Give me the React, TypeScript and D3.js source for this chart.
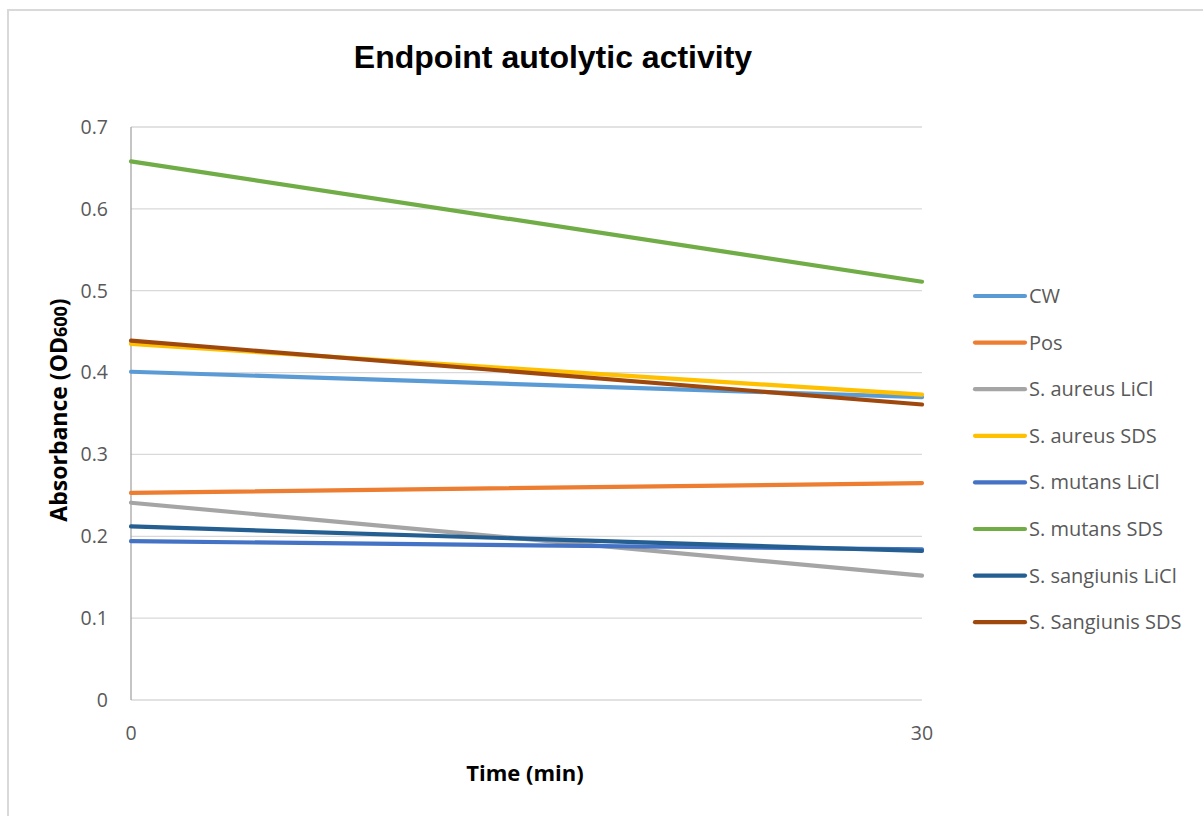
import React from "react";
import * as d3 from "d3";

const times = [0, 30];
const seriesNames = [
  "CW",
  "Pos",
  "S. aureus LiCl",
  "S. aureus SDS",
  "S. mutans LiCl",
  "S. mutans SDS",
  "S. sangiunis LiCl",
  "S. Sangiunis SDS",
];
const seriesColors = [
  "#5b9bd5",
  "#ed7d31",
  "#a5a5a5",
  "#ffc000",
  "#4472c4",
  "#70ad47",
  "#255e91",
  "#9e480e",
];
const cwValues = [0.401, 0.37];
const posValues = [0.253, 0.265];
const aureusLiClValues = [0.241, 0.152];
const aureusSdsValues = [0.435, 0.373];
const mutansLiClValues = [0.194, 0.184];
const mutansSdsValues = [0.658, 0.511];
const sangiunisLiClValues = [0.212, 0.182];
const sangiunisSdsValues = [0.439, 0.361];
const yTicks = [0, 0.1, 0.2, 0.3, 0.4, 0.5, 0.6, 0.7];
const xTicks = [0, 30];

const allValues = [
  cwValues,
  posValues,
  aureusLiClValues,
  aureusSdsValues,
  mutansLiClValues,
  mutansSdsValues,
  sangiunisLiClValues,
  sangiunisSdsValues,
];

export default function App() {
  const W = 1203;
  const H = 816;
  const left = 131;
  const right = 922;
  const top = 127;
  const bottom = 700;
  const x = d3.scaleLinear().domain([0, 30]).range([left, right]);
  const y = d3.scaleLinear().domain([0, 0.7]).range([bottom, top]);
  const line = d3
    .line<number>()
    .x((_, i) => x(times[i]))
    .y((d) => y(d));
  const tickFont = "'Open Sans', 'Noto Sans', sans-serif";
  const legendY0 = 296;
  const legendStep = 46.6;

  return (
    <div style={{ position: "absolute", left: 0, top: 0, width: W, height: H, background: "#fff" }}>
      <svg width={W} height={H} style={{ display: "block" }}>
        <rect x={0} y={0} width={W} height={H} fill="#fff" />
        <rect x={8} y={10} width={W + 20} height={H + 20} fill="none" stroke="#d9d9d9" strokeWidth={2} />
        <text
          x={553}
          y={68}
          textAnchor="middle"
          fontFamily="'Liberation Sans', Arial, sans-serif"
          fontWeight="bold"
          fontSize={32}
          fill="#000"
        >
          Endpoint autolytic activity
        </text>
        {yTicks.map((t) => (
          <g key={t}>
            {t > 0 && (
              <line x1={left} x2={right} y1={y(t)} y2={y(t)} stroke="#d9d9d9" strokeWidth={1.3} />
            )}
            <text
              x={108}
              y={y(t)}
              dy="0.35em"
              textAnchor="end"
              fontFamily={tickFont}
              fontSize={19.5}
              fill="#595959"
            >
              {t === 0 ? "0" : t.toFixed(1)}
            </text>
          </g>
        ))}
        <line x1={left} x2={right} y1={bottom} y2={bottom} stroke="#d9d9d9" strokeWidth={1.3} />
        <line x1={left} x2={left} y1={top} y2={bottom} stroke="#a6a6a6" strokeWidth={1.3} />
        {xTicks.map((t) => (
          <text
            key={t}
            x={x(t)}
            y={733}
            dy="0.35em"
            textAnchor="middle"
            fontFamily={tickFont}
            fontSize={19.5}
            fill="#595959"
          >
            {t}
          </text>
        ))}
        {allValues.map((vals, i) => (
          <path
            key={seriesNames[i]}
            d={line(vals) || ""}
            fill="none"
            stroke={seriesColors[i]}
            strokeWidth={4.2}
            strokeLinecap="round"
          />
        ))}
        <text
          transform={`translate(67, 410) rotate(-90)`}
          textAnchor="middle"
          fontFamily={tickFont}
          fontWeight="bold"
          fontSize={23}
          fill="#000"
        >
          Absorbance (OD<tspan fontSize={18}>600</tspan>)
        </text>
        <text
          x={525}
          y={781}
          textAnchor="middle"
          fontFamily={tickFont}
          fontWeight="bold"
          fontSize={22}
          fill="#000"
        >
          Time (min)
        </text>
        {seriesNames.map((n, i) => {
          const ly = legendY0 + i * legendStep;
          return (
            <g key={n}>
              <line x1={975} x2={1025} y1={ly} y2={ly} stroke={seriesColors[i]} strokeWidth={4.2} strokeLinecap="round" />
              <text x={1029} y={ly} dy="0.35em" fontFamily={tickFont} fontSize={20} fill="#595959">
                {n}
              </text>
            </g>
          );
        })}
      </svg>
    </div>
  );
}
